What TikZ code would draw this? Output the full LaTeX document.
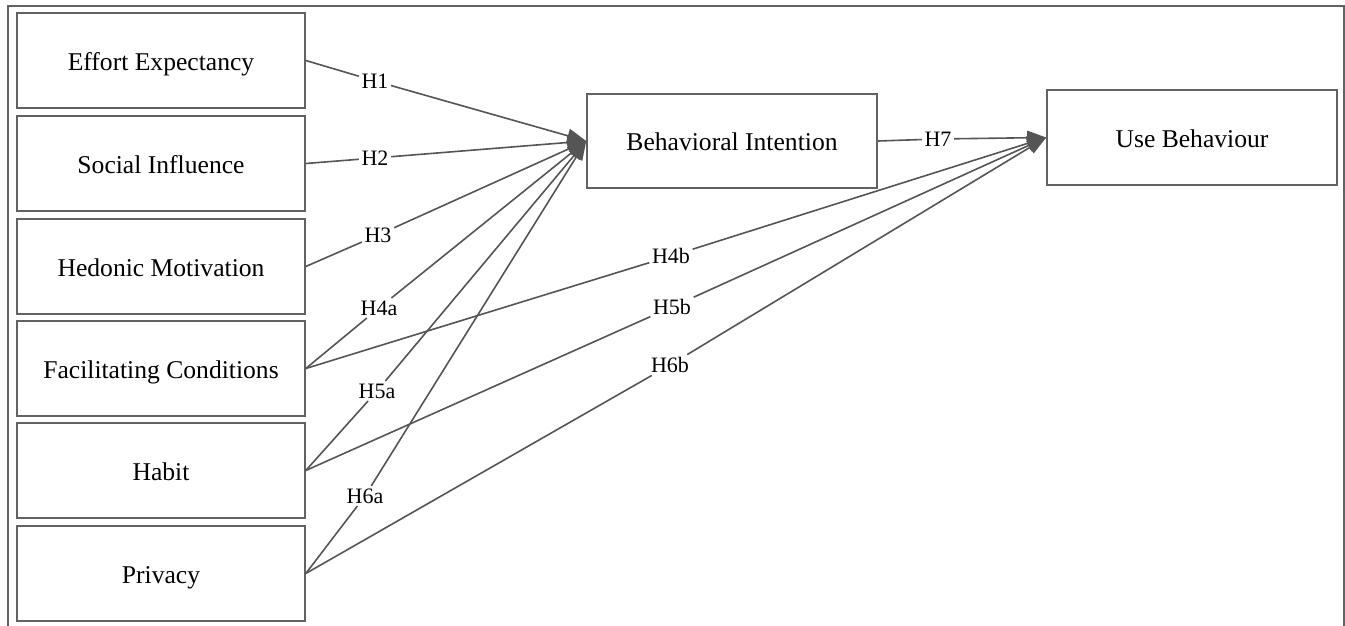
\documentclass[tikz,border=0pt]{standalone}
\usepackage{fontspec}
\setmainfont{Liberation Serif}
\usetikzlibrary{arrows.meta}

\definecolor{boxgray}{HTML}{626262}
\definecolor{linegray}{HTML}{555555}

\tikzset{
  construct/.style={draw=boxgray, line width=1.6pt, inner sep=0pt,
    minimum width=288pt, minimum height=95pt,
    text height=19.5pt, text depth=0pt,
    font=\fontsize{25.6}{30}\selectfont},
  hyp/.style={inner sep=2.5pt, font=\fontsize{22}{26}\selectfont},
  link/.style={draw=linegray, line width=1.6pt},
  arrowlink/.style={link, -{Triangle[length=19pt,width=14pt]}, linegray}
}

\begin{document}
\begin{tikzpicture}[x=1pt,y=-1pt]
      \useasboundingbox (0,0) rectangle (1345,626);
      \draw[boxgray, line width=1.7pt] (8,626) -- (8,6) -- (1344,6) -- (1344,626);

      \node[construct] (ee) at (161,60.5) {Effort Expectancy};
      \node[construct] (si) at (161,163.5) {Social Influence};
      \node[construct] (hm) at (161,266.5) {Hedonic Motivation};
      \node[construct] (fc) at (161,368.5) {Facilitating Conditions};
      \node[construct] (ha) at (161,470.5) {Habit};
      \node[construct] (pr) at (161,573.5) {Privacy};

      \node[construct, minimum width=290pt, minimum height=94pt] (bi) at (732,141) {Behavioral Intention};
      \node[construct, minimum width=290pt, minimum height=95pt] (ub) at (1192,137.5) {Use Behaviour};

      \node[hyp] (h1) at (375,81) {H1};
      \node[hyp] (h2) at (375,158) {H2};
      \node[hyp] (h3) at (378,235) {H3};
      \node[hyp] (h4a) at (379,308) {H4a};
      \node[hyp] (h5a) at (377,391) {H5a};
      \node[hyp] (h6a) at (365,496) {H6a};
      \node[hyp] (h4b) at (671,256) {H4b};
      \node[hyp] (h5b) at (672,307) {H5b};
      \node[hyp] (h6b) at (670,365) {H6b};
      \node[hyp] (h7) at (938,139) {H7};

      \draw[link] (ee.east) -- (h1);
      \draw[arrowlink] (h1) -- (bi.west);
      \draw[link] (si.east) -- (h2);
      \draw[arrowlink] (h2) -- (bi.west);
      \draw[link] (hm.east) -- (h3);
      \draw[arrowlink] (h3) -- (bi.west);
      \draw[link] (fc.east) -- (h4a);
      \draw[arrowlink] (h4a) -- (bi.west);
      \draw[link] (ha.east) -- (h5a);
      \draw[arrowlink] (h5a) -- (bi.west);
      \draw[link] (pr.east) -- (h6a);
      \draw[arrowlink] (h6a) -- (bi.west);

      \draw[link] (fc.east) -- (h4b);
      \draw[arrowlink] (h4b) -- (ub.west);
      \draw[link] (ha.east) -- (h5b);
      \draw[arrowlink] (h5b) -- (ub.west);
      \draw[link] (pr.east) -- (h6b);
      \draw[arrowlink] (h6b) -- (ub.west);
      \draw[link] (bi.east) -- (h7);
      \draw[arrowlink] (h7) -- (ub.west);
    \end{tikzpicture}
\end{document}
